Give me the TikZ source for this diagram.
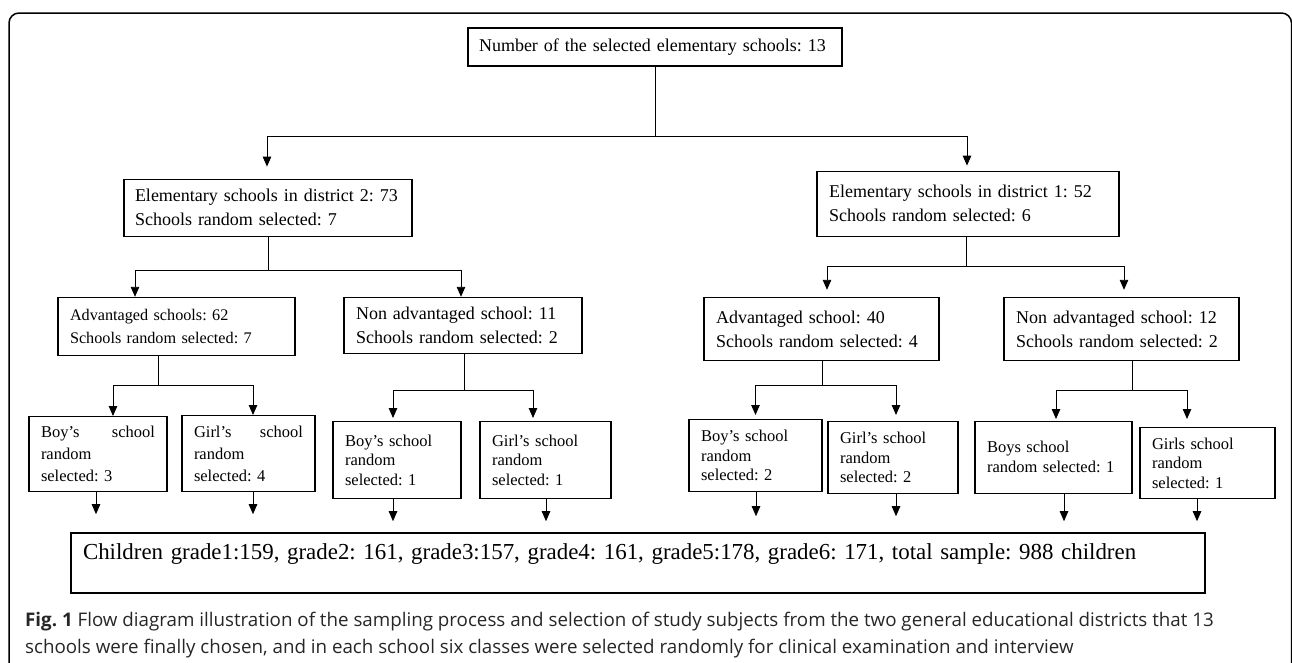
\documentclass[tikz,border=0pt]{standalone}
\usepackage{fontspec}
\setmainfont{Liberation Serif}
\newfontfamily\capfont{Open Sans}
\usetikzlibrary{positioning,arrows.meta}
\frenchspacing

\begin{document}
\begin{tikzpicture}[
  x=1pt, y=1pt,
  box/.style={draw, line width=1.2pt, inner xsep=12pt, inner ysep=1pt, align=left, font=\fontsize{18}{24}\selectfont},
  leaf/.style={box, font=\fontsize{16.5}{19.5}\selectfont},
  line/.style={line width=0.9pt},
  arrow/.style={line, -{Triangle[length=10pt,width=8.5pt]}},
  caption/.style={font=\capfont\fontsize{18.75}{26.5}\selectfont, text=black!85, align=left, inner sep=0pt}
]
\useasboundingbox (0,0) rectangle (1292,-662);
% frame round the figure
\draw[line width=1.5pt, rounded corners=10pt] (9,-670) -- (9,-13) -- (1291.5,-13) -- (1291.5,-670);

\node[box, inner xsep=11pt, text width=352pt, minimum height=38pt] (top) at (655,-47) {Number of the selected elementary schools: 13};

% districts
\node[box, inner xsep=11pt, text width=266pt, minimum height=57pt, below=112pt of top, xshift=-387pt] (d2) {Elementary schools in district 2: 73\\Schools random selected: 7};
\node[box, text width=278pt, minimum height=65pt, below=104pt of top, xshift=313pt] (d1) {Elementary schools in district 1: 52\\Schools random selected: 6};

% advantaged / non advantaged
\node[box, font=\fontsize{16.2}{23}\selectfont, text width=213pt, minimum height=58pt, below=60pt of d2, xshift=-91.5pt] (adv2) {Advantaged schools: 62\\Schools random selected: 7};
\node[box, text width=214pt, minimum height=56pt, below=60pt of d2, xshift=195pt] (non2) {Non advantaged school: 11\\Schools random selected: 2};
\node[box, text width=211pt, minimum height=63pt, below=60pt of d1, xshift=-146.5pt] (adv1) {Advantaged school: 40\\Schools random selected: 4};
\node[box, text width=211pt, minimum height=63pt, below=60pt of d1, xshift=153.5pt] (non1) {Non advantaged school: 12\\Schools random selected: 2};

% boys / girls
\node[leaf, font=\fontsize{16.5}{22}\selectfont, text width=114pt, minimum height=75pt, below=60pt of adv2, xshift=-78.5pt] (boy2a) {Boy's\hfill school\\random\\selected: 3};
\node[leaf, font=\fontsize{16.5}{22}\selectfont, text width=109pt, minimum height=76pt, below=59pt of adv2, xshift=72pt] (girl2a) {Girl's\hfill school\\random\\selected: 4};
\node[leaf, text width=104pt, minimum height=77pt, below=67pt of non2, xshift=-66pt] (boy2n) {Boy's school\\random\\selected: 1};
\node[leaf, text width=107pt, minimum height=77pt, below=67pt of non2, xshift=82.5pt] (girl2n) {Girl's school\\random\\selected: 1};
\node[leaf, text width=109pt, minimum height=72pt, below=58pt of adv1, xshift=-66pt] (boy1a) {Boy's school\\random\\selected: 2};
\node[leaf, text width=106pt, minimum height=72pt, below=60pt of adv1, xshift=71.5pt] (girl1a) {Girl's school\\random\\selected: 2};
\node[leaf, text width=133pt, minimum height=72pt, text depth=21pt, below=60pt of non1, xshift=-68pt] (boy1n) {Boys school\\random selected: 1};
\node[leaf, text width=111pt, minimum height=71pt, below=66pt of non1, xshift=86pt] (girl1n) {Girls school\\random\\selected: 1};

\node[box, font=\fontsize{22.9}{28}\selectfont, text width=1110pt, minimum height=60pt, text depth=23pt] (kids) at (638,-563) {Children grade1:159, grade2: 161, grade3:157, grade4: 161, grade5:178, grade6: 171, total sample: 988 children};

\node[caption, anchor=north west] (cap) at (25,-612) {\textbf{Fig. 1} Flow diagram illustration of the sampling process and selection of study subjects from the two general educational districts that 13\\schools were finally chosen, and in each school six classes were selected randomly for clinical examination and interview};

% junctions
\coordinate (jtop) at (655,-136);
\coordinate (jd2) at (268,-270);
\coordinate (jd1) at (966,-266);
\coordinate (jadv2) at (158,-385);
\coordinate (jnon2) at (464,-390);
\coordinate (jadv1) at (822,-385);
\coordinate (jnon1) at (1132,-390);

\draw[line] (top.south -| jtop) -- (jtop);
\draw[arrow, shorten >=12pt] (jtop) -| ([xshift=-1pt]d2.north);
\draw[arrow, shorten >=5pt] (jtop) -| ([xshift=-1pt]d1.north);

\draw[line] (d2.south -| jd2) -- (jd2);
\draw[arrow] (jd2) -| ([xshift=-41.5pt]adv2.north);
\draw[arrow] (jd2) -| ([xshift=-2pt]non2.north);
\draw[line] (d1.south -| jd1) -- (jd1);
\draw[arrow, shorten >=7pt] (jd1) -| ([xshift=5.5pt]adv1.north);
\draw[arrow, shorten >=7pt] (jd1) -| ([xshift=2.5pt]non1.north);

\draw[line] (adv2.south -| jadv2) -- (jadv2);
\draw[arrow] (jadv2) -| ([xshift=15pt]boy2a.north);
\draw[arrow] (jadv2) -| ([xshift=4.5pt]girl2a.north);
\draw[line] (non2.south -| jnon2) -- (jnon2);
\draw[arrow, shorten >=3pt] (jnon2) -| ([xshift=-4pt]boy2n.north);
\draw[arrow, shorten >=3pt] (jnon2) -| ([xshift=-12.5pt]girl2n.north);
\draw[line] (adv1.south -| jadv1) -- (jadv1);
\draw[arrow, shorten >=4pt] (jadv1) -| (boy1a);
\draw[arrow, shorten >=6pt] (jadv1) -| ([xshift=3pt]girl1a.north);
\draw[line] (non1.south -| jnon1) -- (jnon1);
\draw[arrow, shorten >=2pt] (jnon1) -| ([xshift=2.5pt]boy1n.north);
\draw[arrow, shorten >=8pt] (jnon1) -| ([xshift=-20.5pt]girl1n.north);

% down to the children box
\foreach \n/\dx/\l in {boy2a/-2/22, girl2a/4.5/22, boy2n/-4/22, girl2n/0.5/22, boy1a/0.5/24, girl1a/3/22, boy1n/10.5/27, girl1n/-10.5/22}
  \draw[arrow] ([xshift=\dx pt]\n.south) -- ++(0,-\l pt);
\end{tikzpicture}
\end{document}
